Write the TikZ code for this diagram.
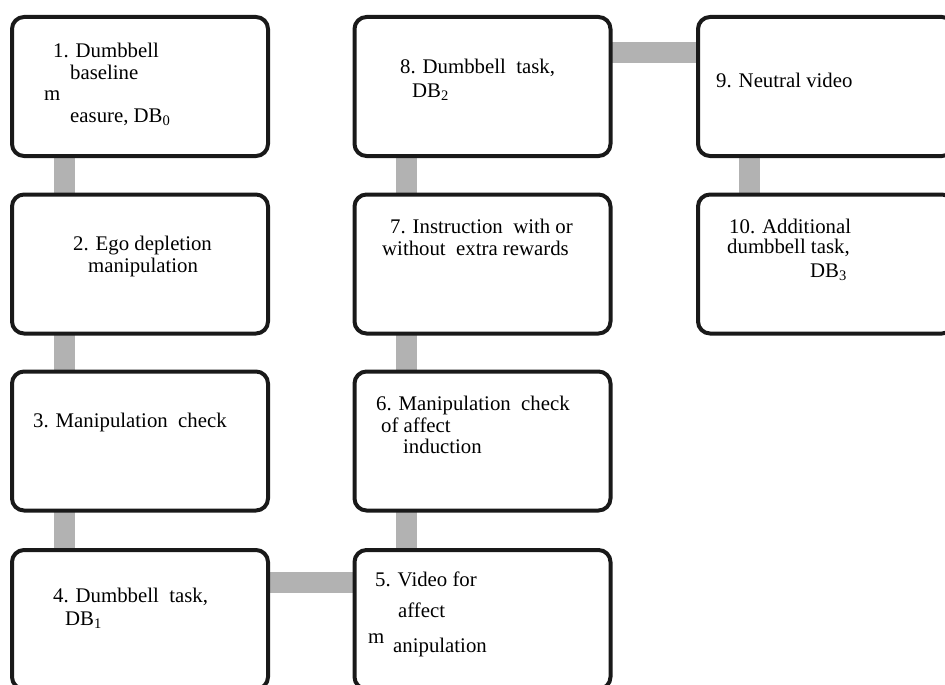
\documentclass[tikz,border=0pt]{standalone}
\usepackage{fontspec}
\setmainfont{Liberation Serif}
\usetikzlibrary{backgrounds}
\begin{document}
\begin{tikzpicture}[x=1pt,y=-1pt,line cap=round,line join=round,
  box/.style={draw=black!90,line width=4pt,fill=white,rounded corners=12pt,
    minimum width=256pt,minimum height=139pt,inner sep=0pt,outer sep=0pt},
  link/.style={draw=black!30,line width=21pt,line cap=butt},
  lbl/.style={anchor=base west,inner sep=0pt,font=\fontsize{20.8}{22}\selectfont}]
  \useasboundingbox (0,0) rectangle (945,685);
  \clip (0,0) rectangle (945,685);
  % boxes
  \node[box] (b1) at (140,86.5) {};
  \node[box] (b2) at (140,264) {};
  \node[box] (b3) at (140,441) {};
  \node[box] (b4) at (140,619.5) {};
  \node[box] (b5) at (482.5,619.5) {};
  \node[box] (b6) at (482.5,441) {};
  \node[box] (b7) at (482.5,264) {};
  \node[box] (b8) at (482.5,86.5) {};
  \node[box] (b9) at (826,86.5) {};
  \node[box] (b10) at (826,264) {};
  % connectors
  \begin{scope}[on background layer]
    \path[link] ([xshift=-76pt]b1.south) -- ([xshift=-76pt]b2.north);
    \path[link] ([xshift=-76pt]b2.south) -- ([xshift=-76pt]b3.north);
    \path[link] ([xshift=-76pt]b3.south) -- ([xshift=-76pt]b4.north);
    \path[link] ([yshift=37.5pt]b4.east) -- ([yshift=37.5pt]b5.west);
    \path[link] ([xshift=-76pt]b5.north) -- ([xshift=-76pt]b6.south);
    \path[link] ([xshift=-76pt]b6.north) -- ([xshift=-76pt]b7.south);
    \path[link] ([xshift=-76pt]b7.north) -- ([xshift=-76pt]b8.south);
    \path[link] ([yshift=33.5pt]b8.east) -- ([yshift=33.5pt]b9.west);
    \path[link] ([xshift=-77pt]b9.south) -- ([xshift=-77pt]b10.north);
  \end{scope}
  % texts
  \node[lbl] (t1a) at (53,58) {1. Dumbbell};
  \node[lbl] (t1b) at (70,79) {baseline};
  \node[lbl] (t1c) at (44,100) {m};
  \node[lbl] (t1d) at (70,122) {easure, DB\textsubscript{0}};
  \node[lbl] (t2a) at (73,250) {2. Ego depletion};
  \node[lbl] (t2b) at (88,272) {manipulation};
  \node[lbl] (t3a) at (33,427) {3. Manipulation\ \ check};
  \node[lbl] (t4a) at (53,602) {4. Dumbbell\ \ task,};
  \node[lbl] (t4b) at (65,625) {DB\textsubscript{1}};
  \node[lbl] (t5a) at (375,586) {5. Video for};
  \node[lbl] (t5b) at (398,617) {affect};
  \node[lbl] (t5c) at (368,643) {m};
  \node[lbl] (t5d) at (393,652) {anipulation};
  \node[lbl] (t6a) at (376,410) {6. Manipulation\ \ check};
  \node[lbl] (t6b) at (381,432) {of affect};
  \node[lbl] (t6c) at (403,453) {induction};
  \node[lbl] (t7a) at (390,233) {7. Instruction\ \ with or};
  \node[lbl] (t7b) at (382,255) {without\ \ extra rewards};
  \node[lbl] (t8a) at (400,74) {8. Dumbbell\ \ task,};
  \node[lbl] (t8b) at (412,97) {DB\textsubscript{2}};
  \node[lbl] (t9a) at (716,88) {9. Neutral video};
  \node[lbl] (t10a) at (729,233) {10. Additional};
  \node[lbl] (t10b) at (727,253) {dumbbell task,};
  \node[lbl] (t10c) at (810,277) {DB\textsubscript{3}};
\end{tikzpicture}
\end{document}
